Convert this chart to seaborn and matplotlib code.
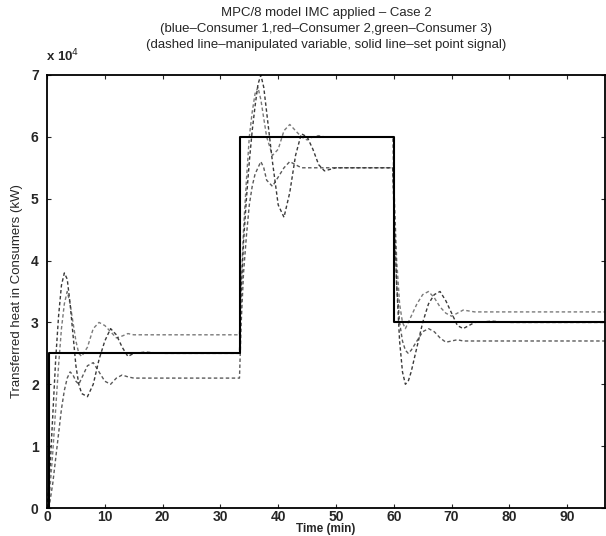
import numpy as np
import pandas as pd
import matplotlib
matplotlib.use("Agg")
import matplotlib.pyplot as plt
import seaborn as sns
from matplotlib.ticker import FuncFormatter

# ---- data (heat in kW, x1e4 units noted) ----
time_min = [0, 0.5, 1, 1.5, 2, 2.5, 3, 3.5, 4, 4.5, 5, 5.5, 6, 7, 8, 9, 10, 11, 12, 13, 14, 15, 17, 20, 25, 30, 33.3,
            33.6, 34, 34.5, 35, 35.5, 36, 36.5, 37, 37.5, 38, 39, 40, 41, 42, 43, 44, 45, 46, 47, 48, 50, 53, 56, 59.8,
            60.1, 60.5, 61, 61.5, 62, 62.5, 63, 64, 65, 66, 67, 68, 69, 70, 71, 72, 74, 77, 80, 85, 90, 96.5]

mv_consumer1 = [0, 0.3, 0.9, 1.6, 2.3, 2.9, 3.3, 3.5, 3.3, 3.0, 2.7, 2.5, 2.45, 2.6, 2.9, 3.0, 2.95, 2.85, 2.75, 2.78,
                2.82, 2.8, 2.8, 2.8, 2.8, 2.8, 2.8,
                3.6, 4.5, 5.3, 6.0, 6.4, 6.7, 6.8, 6.6, 6.3, 6.0, 5.7, 5.8, 6.1, 6.2, 6.1, 6.0, 5.95, 6.0, 6.02, 6.0,
                6.0, 6.0, 6.0, 6.0,
                5.0, 4.0, 3.3, 3.0, 2.9, 3.0, 3.1, 3.3, 3.45, 3.5, 3.4, 3.25, 3.15, 3.1, 3.15, 3.2, 3.17, 3.17, 3.17,
                3.17, 3.17, 3.17]

mv_consumer2 = [0, 0.1, 0.4, 0.8, 1.2, 1.6, 1.9, 2.1, 2.2, 2.15, 2.05, 2.0, 2.1, 2.3, 2.35, 2.2, 2.05, 2.0, 2.1, 2.15,
                2.12, 2.1, 2.1, 2.1, 2.1, 2.1, 2.1,
                3.0, 3.8, 4.4, 4.9, 5.2, 5.4, 5.5, 5.6, 5.5, 5.3, 5.2, 5.35, 5.5, 5.6, 5.55, 5.5, 5.5, 5.5, 5.5, 5.5,
                5.5, 5.5, 5.5, 5.5,
                4.6, 3.6, 3.0, 2.7, 2.55, 2.5, 2.55, 2.7, 2.85, 2.9, 2.85, 2.75, 2.68, 2.7, 2.72, 2.7, 2.7, 2.7, 2.7,
                2.7, 2.7, 2.7]

mv_consumer3 = [0, 0.6, 1.5, 2.4, 3.1, 3.6, 3.8, 3.7, 3.3, 2.8, 2.3, 2.0, 1.85, 1.8, 2.0, 2.4, 2.7, 2.9, 2.8, 2.6,
                2.45, 2.5, 2.52, 2.5, 2.5, 2.5, 2.5,
                3.5, 4.3, 5.0, 5.6, 6.1, 6.5, 6.85, 7.0, 6.8, 6.4, 5.6, 4.9, 4.7, 5.1, 5.7, 6.05, 6.0, 5.8, 5.55, 5.45,
                5.5, 5.5, 5.5, 5.5,
                4.8, 3.6, 2.7, 2.2, 2.0, 2.05, 2.2, 2.6, 3.0, 3.3, 3.45, 3.5, 3.35, 3.15, 2.95, 2.9, 3.0, 3.02, 3.0,
                3.0, 3.0, 3.0]

setpoint_time = [0, 0.3, 0.3, 33.4, 33.4, 60.0, 60.0, 96.5]
setpoint_value = [0, 0, 2.5, 2.5, 6.0, 6.0, 3.0, 3.0]

x_ticks = [0, 10, 20, 30, 40, 50, 60, 70, 80, 90]
y_ticks = [0, 1, 2, 3, 4, 5, 6, 7]
SCALE = 1e4

# ---- build frames ----
mv = pd.DataFrame({
    "t": time_min * 3,
    "q": np.array(mv_consumer1 + mv_consumer2 + mv_consumer3) * SCALE,
    "series": ["Consumer 1"] * len(time_min) + ["Consumer 2"] * len(time_min) + ["Consumer 3"] * len(time_min),
})
sp = pd.DataFrame({"t": setpoint_time, "q": np.array(setpoint_value) * SCALE})

sns.set_style("ticks")
plt.rcParams["font.family"] = ["Liberation Sans", "DejaVu Sans"]

fig = plt.figure(figsize=(6.06, 5.36), dpi=100)
ax = fig.add_axes([47 / 606, 1 - 508 / 536, 1 - 47 / 606 - 0.002, (508 - 75) / 536])

greys = {"Consumer 1": "#7a7a7a", "Consumer 2": "#5a5a5a", "Consumer 3": "#3a3a3a"}
for name, g in mv.groupby("series"):
    sns.lineplot(data=g, x="t", y="q", ax=ax, color=greys[name], lw=1.0, linestyle=(0, (2.5, 1.8)),
                 estimator=None, sort=False, legend=False)
sns.lineplot(data=sp, x="t", y="q", ax=ax, color="black", lw=1.5, estimator=None, sort=False, legend=False)

ax.set_xlim(0, 96.5)
ax.set_ylim(0, 7 * SCALE)
ax.set_xticks(x_ticks)
ax.set_yticks([v * SCALE for v in y_ticks])
ax.yaxis.set_major_formatter(FuncFormatter(lambda v, p: f"{v / SCALE:.0f}"))
ax.tick_params(direction="in", top=True, right=True, length=3, width=0.8, labelsize=10)
ax.tick_params(axis="x", pad=1.5)
ax.tick_params(axis="y", pad=6)
for lbl in ax.get_xticklabels() + ax.get_yticklabels():
    lbl.set_fontweight("bold")
for s in ax.spines.values():
    s.set_linewidth(1.3)
    s.set_color("black")

ax.set_xlabel("")
ax.set_ylabel("Transferred heat in Consumers (kW)", fontsize=9.5, labelpad=6)
fig.text(0.538, 1 - 529 / 536, "Time (min)", ha="center", va="center", fontsize=8.5, fontweight="bold")

fig.text(0.538, 1 - 13 / 536, "MPC/8 model IMC applied \u2013 Case 2", ha="center", va="center", fontsize=9.5)
fig.text(0.538, 1 - 29 / 536, "(blue\u2013Consumer 1,red\u2013Consumer 2,green\u2013Consumer 3)",
         ha="center", va="center", fontsize=9.5)
fig.text(0.538, 1 - 45 / 536, "(dashed line\u2013manipulated variable, solid line\u2013set point signal)",
         ha="center", va="center", fontsize=9.5)
fig.text(46 / 606, 1 - 64 / 536, r"x 10$^{4}$", ha="left", va="bottom", fontsize=9.5, fontweight="bold")

fig.savefig("out.png", dpi=100)
